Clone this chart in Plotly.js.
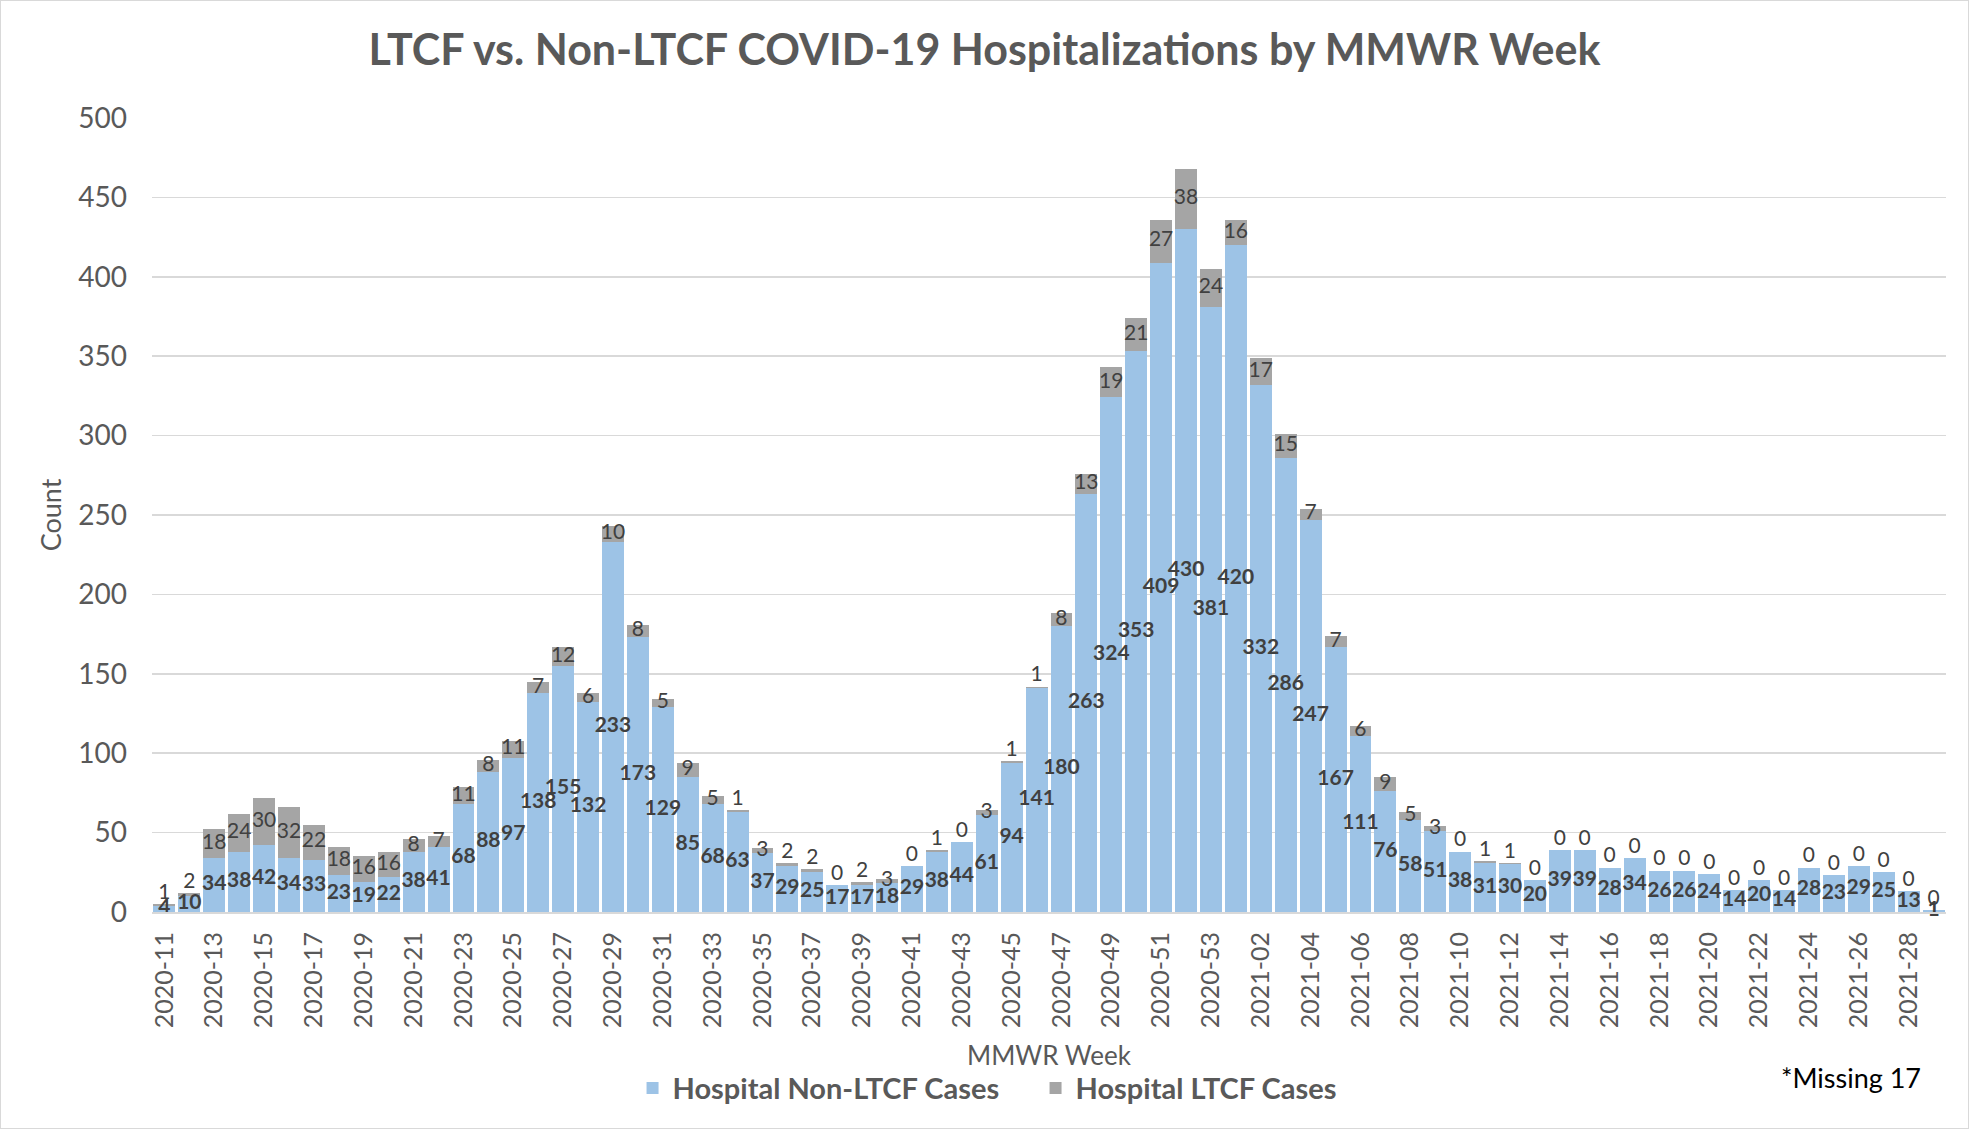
<!DOCTYPE html>
<html>
<head>
<meta charset="utf-8">
<script src="https://cdn.plot.ly/plotly-3.0.1.min.js"></script>
<style>
  html, body { margin: 0; padding: 0; background: #fff; }
  #wrap { position: relative; width: 1969px; height: 1129px; }
  #chart { width: 1969px; height: 1129px; }
  #frame { position: absolute; left: 0; top: 0; width: 1969px; height: 1129px; box-sizing: border-box; border: 1px solid #d9d9d9; pointer-events: none; }
</style>
</head>
<body>
<div id="wrap"><div id="chart"></div><div id="frame"></div></div>
<script>
// MMWR weeks
const weeks = [
  "2020-11","2020-12","2020-13","2020-14","2020-15","2020-16","2020-17","2020-18","2020-19","2020-20",
  "2020-21","2020-22","2020-23","2020-24","2020-25","2020-26","2020-27","2020-28","2020-29","2020-30",
  "2020-31","2020-32","2020-33","2020-34","2020-35","2020-36","2020-37","2020-38","2020-39","2020-40",
  "2020-41","2020-42","2020-43","2020-44","2020-45","2020-46","2020-47","2020-48","2020-49","2020-50",
  "2020-51","2020-52","2020-53","2021-01","2021-02","2021-03","2021-04","2021-05","2021-06","2021-07",
  "2021-08","2021-09","2021-10","2021-11","2021-12","2021-13","2021-14","2021-15","2021-16","2021-17",
  "2021-18","2021-19","2021-20","2021-21","2021-22","2021-23","2021-24","2021-25","2021-26","2021-27",
  "2021-28","2021-29"
];
// Hospital Non-LTCF Cases
const nonLtcf = [
  4,10,34,38,42,34,33,23,19,22,
  38,41,68,88,97,138,155,132,233,173,
  129,85,68,63,37,29,25,17,17,18,
  29,38,44,61,94,141,180,263,324,353,
  409,430,381,420,332,286,247,167,111,76,
  58,51,38,31,30,20,39,39,28,34,
  26,26,24,14,20,14,28,23,29,25,
  13,1
];
// Hospital LTCF Cases
const ltcf = [
  1,2,18,24,30,32,22,18,16,16,
  8,7,11,8,11,7,12,6,10,8,
  5,9,5,1,3,2,2,0,2,3,
  0,1,0,3,1,1,8,13,19,21,
  27,38,24,16,17,15,7,7,6,9,
  5,3,0,1,1,0,0,0,0,0,
  0,0,0,0,0,0,0,0,0,0,
  0,0
];
const seriesNames = ["Hospital Non-LTCF Cases", "Hospital LTCF Cases"];
const titleText = "LTCF vs. Non-LTCF COVID-19 Hospitalizations by MMWR Week";
const noteText = "*Missing 17";

const FONT = "Lato, 'Open Sans', sans-serif";
const LABEL_SIZE = 21;

// label anchors derived from the data (drawn on top of all bars, like Excel)
const blueLabelY = nonLtcf.map(v => v / 2);
const greyLabelY = nonLtcf.map((v, i) => ltcf[i] >= 3 ? v + ltcf[i] / 2 : v + ltcf[i]);
const greyLabelPos = ltcf.map(v => v >= 3 ? "middle center" : "top center");

const traces = [
  {
    type: "bar",
    name: seriesNames[0],
    x: weeks,
    y: nonLtcf,
    marker: { color: "#9DC3E6" },
    hoverinfo: "skip"
  },
  {
    type: "bar",
    name: seriesNames[1],
    x: weeks,
    y: ltcf,
    marker: { color: "#A5A5A5" },
    hoverinfo: "skip"
  },
  {
    type: "scatter",
    mode: "text",
    x: weeks,
    y: blueLabelY,
    text: nonLtcf.map(String),
    textposition: "middle center",
    textfont: { family: FONT, size: LABEL_SIZE, color: "#404040", weight: "bold" },
    cliponaxis: false,
    showlegend: false,
    hoverinfo: "skip"
  },
  {
    type: "scatter",
    mode: "text",
    x: weeks,
    y: greyLabelY,
    text: ltcf.map(String),
    textposition: greyLabelPos,
    textfont: { family: FONT, size: LABEL_SIZE, color: "#404040" },
    cliponaxis: false,
    showlegend: false,
    hoverinfo: "skip"
  }
];

const layout = {
  width: 1969,
  height: 1129,
  paper_bgcolor: "#ffffff",
  plot_bgcolor: "#ffffff",
  margin: { l: 152, r: 23, t: 118, b: 217 },
  barmode: "stack",
  bargap: 0.12,
  font: { family: FONT, color: "#595959" },
  title: {
    text: titleText,
    font: { family: FONT, size: 43, color: "#595959", weight: "bold" },
    xref: "container", x: 0.5, xanchor: "center",
    yref: "container", y: 0.956, yanchor: "middle"
  },
  xaxis: {
    type: "category",
    range: [-0.5, weeks.length - 0.5],
    autorange: false,
    tickmode: "linear",
    tick0: 0,
    dtick: 2,
    tickangle: -90,
    tickfont: { family: FONT, size: 25, color: "#595959" },
    ticks: "",
    ticklabelstandoff: 8,
    showline: true,
    linecolor: "#D9D9D9",
    linewidth: 2,
    showgrid: false,
    title: { text: "MMWR Week", font: { family: FONT, size: 26, color: "#595959" }, standoff: 20 }
  },
  yaxis: {
    range: [0, 500],
    autorange: false,
    dtick: 50,
    tick0: 0,
    ticks: "",
    ticklabelstandoff: 24,
    tickfont: { family: FONT, size: 28, color: "#595959" },
    gridcolor: "#D9D9D9",
    gridwidth: 1.5,
    zeroline: false,
    showline: false,
    title: { text: "Count", font: { family: FONT, size: 27, color: "#595959" }, standoff: 8 }
  },
  legend: {
    orientation: "h",
    x: 0.4925, xanchor: "center",
    y: -0.222, yanchor: "middle",
    font: { family: FONT, size: 29, color: "#595959", weight: "bold" },
    traceorder: "normal",
    itemwidth: 30,
    entrywidth: 358
  },
  annotations: [
    {
      text: noteText,
      xref: "paper", yref: "paper",
      x: 0.987, xanchor: "right",
      y: -0.209, yanchor: "middle",
      showarrow: false,
      font: { family: FONT, size: 27, color: "#000000" }
    }
  ],
  showlegend: true
};

Plotly.newPlot("chart", traces, layout, { displayModeBar: false, staticPlot: true });
</script>
</body>
</html>
